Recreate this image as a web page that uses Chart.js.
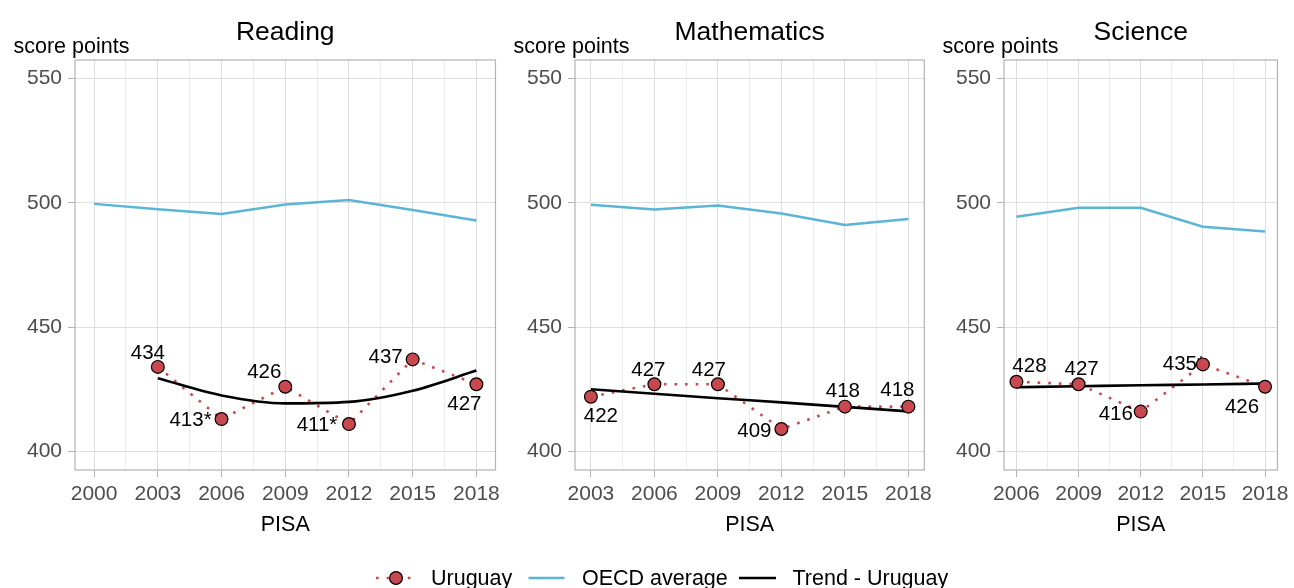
<!DOCTYPE html>
<html>
<head>
<meta charset="utf-8">
<script src="https://cdn.jsdelivr.net/npm/chart.js@4.4.1/dist/chart.umd.min.js"></script>
<style>
html,body{margin:0;padding:0;background:#fff;width:1294px;height:588px;overflow:hidden;font-family:"Liberation Sans",Arial,sans-serif}
canvas{position:absolute;left:0;top:0}
.lg{position:absolute;font-size:21.5px;line-height:24px;color:#000;white-space:nowrap;top:566px}
#lgsvg{position:absolute;left:0;top:560px}
</style>
</head>
<body>
<canvas id="c1" width="1294" height="588"></canvas>
<canvas id="c2" width="1294" height="588"></canvas>
<canvas id="c3" width="1294" height="588"></canvas>
<svg id="lgsvg" width="1294" height="28">
  <line x1="376" y1="18" x2="412" y2="18" stroke="#c9474f" stroke-width="2.6" stroke-dasharray="2.6 8"/>
  <circle cx="396" cy="18" r="6.4" fill="#c9474f" stroke="#000" stroke-width="1.2"/>
  <line x1="528.5" y1="18" x2="564.5" y2="18" stroke="#5bb5d5" stroke-width="2.5"/>
  <line x1="739" y1="18" x2="776" y2="18" stroke="#000" stroke-width="2.6"/>
</svg>
<div class="lg" style="left:431px">Uruguay</div>
<div class="lg" style="left:582px">OECD average</div>
<div class="lg" style="left:792.5px">Trend - Uruguay</div>
<script>
// ---------- data ----------
const panelTitles = ['Reading', 'Mathematics', 'Science'];
const yAxisLabel = 'score points';
const xAxisLabel = 'PISA';
const legendNames = ['Uruguay', 'OECD average', 'Trend - Uruguay'];
const yTicks = [400, 450, 500, 550];

const readingXTicks = [2000, 2003, 2006, 2009, 2012, 2015, 2018];
const readingYears = [2003, 2006, 2009, 2012, 2015, 2018];
const readingUruguay = [434, 413, 426, 411, 437, 427];
const readingLabels = ['434', '413*', '426', '411*', '437', '427'];
const readingTrend = [429.4, 422.5, 419.3, 419.9, 424.4, 432.5];
const readingOecdYears = [2000, 2003, 2006, 2009, 2012, 2015, 2018];
const readingOecd = [499.6, 497.4, 495.5, 499.3, 501.2, 497.1, 492.9];

const mathXTicks = [2003, 2006, 2009, 2012, 2015, 2018];
const mathYears = [2003, 2006, 2009, 2012, 2015, 2018];
const mathUruguay = [422, 427, 427, 409, 418, 418];
const mathLabels = ['422', '427', '427', '409', '418', '418'];
const mathTrend = [425.0, 423.2, 421.4, 419.7, 417.9, 416.1];
const mathOecdYears = [2003, 2006, 2009, 2012, 2015, 2018];
const mathOecd = [499.2, 497.3, 498.9, 495.7, 491.1, 493.5];

const sciXTicks = [2006, 2009, 2012, 2015, 2018];
const sciYears = [2006, 2009, 2012, 2015, 2018];
const sciUruguay = [428, 427, 416, 435, 426];
const sciLabels = ['428', '427', '416', '435*', '426'];
const sciTrend = [425.8, 426.2, 426.6, 426.9, 427.3];
const sciOecdYears = [2006, 2009, 2012, 2015, 2018];
const sciOecd = [494.4, 498.0, 498.0, 490.4, 488.5];

// ---------- styles / layout ----------
const FONT = '"Liberation Sans", Arial, sans-serif';
const RED = '#c9474f', BLUE = '#5bb5d5';
const panels = [
  { id: 'c1', title: panelTitles[0], xTicks: readingXTicks, years: readingYears, uru: readingUruguay, labels: readingLabels,
    trend: readingTrend, oYears: readingOecdYears, oecd: readingOecd,
    pad: { left: 0, right: 798.5 },
    offsets: [[-10,-15],[-31,0],[-21,-16],[-32,0],[-27,-4],[-12,18]] },
  { id: 'c2', title: panelTitles[1], xTicks: mathXTicks, years: mathYears, uru: mathUruguay, labels: mathLabels,
    trend: mathTrend, oYears: mathOecdYears, oecd: mathOecd,
    pad: { left: 500, right: 369.7 },
    offsets: [[10,18],[-6,-16],[-9,-16],[-27,1],[-2,-17],[-11,-18]] },
  { id: 'c3', title: panelTitles[2], xTicks: sciXTicks, years: sciYears, uru: sciUruguay, labels: sciLabels,
    trend: sciTrend, oYears: sciOecdYears, oecd: sciOecd,
    pad: { left: 929, right: 13 },
    offsets: [[13,-17],[3,-17],[-25,1],[-19,-2],[-23,19]] }
];

const decor = {
  id: 'decor',
  afterDatasetDraw(chart, args, opts) {
    if (args.index !== 1) return;
    const meta = chart.getDatasetMeta(0);
    const ctx = chart.ctx;
    ctx.save();
    ctx.font = '20.5px ' + FONT;
    ctx.fillStyle = '#000';
    ctx.textAlign = 'center';
    ctx.textBaseline = 'alphabetic';
    meta.data.forEach((pt, i) => {
      const o = opts.offsets[i];
      ctx.fillText(opts.labels[i], pt.x + o[0], pt.y + o[1] + 7.3);
    });
    ctx.restore();
  },
  afterDraw(chart, args, opts) {
    const ctx = chart.ctx, a = chart.chartArea;
    ctx.save();
    ctx.strokeStyle = '#b3b3b3';
    ctx.lineWidth = 1.2;
    ctx.strokeRect(a.left, a.top, a.right - a.left, a.bottom - a.top);
    ctx.fillStyle = '#000';
    ctx.textBaseline = 'alphabetic';
    ctx.font = '26.5px ' + FONT;
    ctx.textAlign = 'center';
    ctx.fillText(opts.title, (a.left + a.right) / 2, 39.5);
    ctx.font = '21.5px ' + FONT;
    ctx.textAlign = 'left';
    ctx.fillText(yAxisLabel, a.left - 61.5, 52.5);
    ctx.textAlign = 'center';
    ctx.fillText(xAxisLabel, (a.left + a.right) / 2, 530.5);
    ctx.restore();
  }
};

panels.forEach(p => {
  const first = p.xTicks[0], last = p.xTicks[p.xTicks.length - 1];
  const span = last - first;
  const gridVals = [];
  p.xTicks.forEach((t, i) => {
    gridVals.push(t);
    if (i < p.xTicks.length - 1) gridVals.push((t + p.xTicks[i + 1]) / 2);
  });
  const isMajor = v => p.xTicks.some(t => Math.abs(t - v) < 1e-6);
  const pts = (xs, ys) => xs.map((x, i) => ({ x: x, y: ys[i] }));

  new Chart(document.getElementById(p.id), {
    type: 'line',
    data: {
      datasets: [
        { label: legendNames[0], data: pts(p.years, p.uru), showLine: false,
          pointRadius: 6.4, pointBackgroundColor: RED, pointBorderColor: '#000', pointBorderWidth: 1.2 },
        { label: legendNames[2], data: pts(p.years, p.trend), borderColor: '#000', borderWidth: 2.6,
          pointRadius: 0, cubicInterpolationMode: 'monotone', fill: false },
        { label: legendNames[0] + ' line', data: pts(p.years, p.uru), borderColor: RED, borderWidth: 2.6,
          borderDash: [2.6, 8], pointRadius: 0, tension: 0, fill: false },
        { label: legendNames[1], data: pts(p.oYears, p.oecd), borderColor: BLUE, borderWidth: 2.5,
          pointRadius: 0, tension: 0, fill: false }
      ]
    },
    options: {
      responsive: false,
      animation: false,
      events: [],
      layout: { padding: { left: p.pad.left, right: p.pad.right, top: 60, bottom: 48 } },
      plugins: {
        legend: { display: false },
        title: { display: false },
        tooltip: { enabled: false },
        decor: { title: p.title, labels: p.labels, offsets: p.offsets }
      },
      scales: {
        x: {
          type: 'linear',
          min: first - span * 0.05,
          max: last + span * 0.05,
          afterBuildTicks: s => { s.ticks = gridVals.map(v => ({ value: v })); },
          afterFit: s => { s.height = 70; },
          border: { display: false },
          grid: {
            color: c => (c.tick && isMajor(c.tick.value)) ? '#dedede' : '#ededed',
            tickColor: c => (c.tick && isMajor(c.tick.value)) ? '#b3b3b3' : 'rgba(0,0,0,0)',
            tickLength: 7,
            lineWidth: 1
          },
          ticks: {
            autoSkip: false, maxRotation: 0, minRotation: 0,
            color: '#4d4d4d', font: { family: FONT, size: 21 }, padding: 5,
            callback: v => isMajor(v) ? String(Math.round(v)) : ''
          }
        },
        y: {
          type: 'linear',
          min: 392.5,
          max: 557.5,
          afterBuildTicks: s => { s.ticks = yTicks.map(v => ({ value: v })); },
          afterFit: s => { s.width = 75; },
          border: { display: false },
          grid: { color: '#dedede', tickColor: '#b3b3b3', tickLength: 7, lineWidth: 1 },
          ticks: { color: '#4d4d4d', font: { family: FONT, size: 21 }, padding: 6,
                   callback: v => String(v) }
        }
      }
    },
    plugins: [decor]
  });
});
</script>
</body>
</html>
